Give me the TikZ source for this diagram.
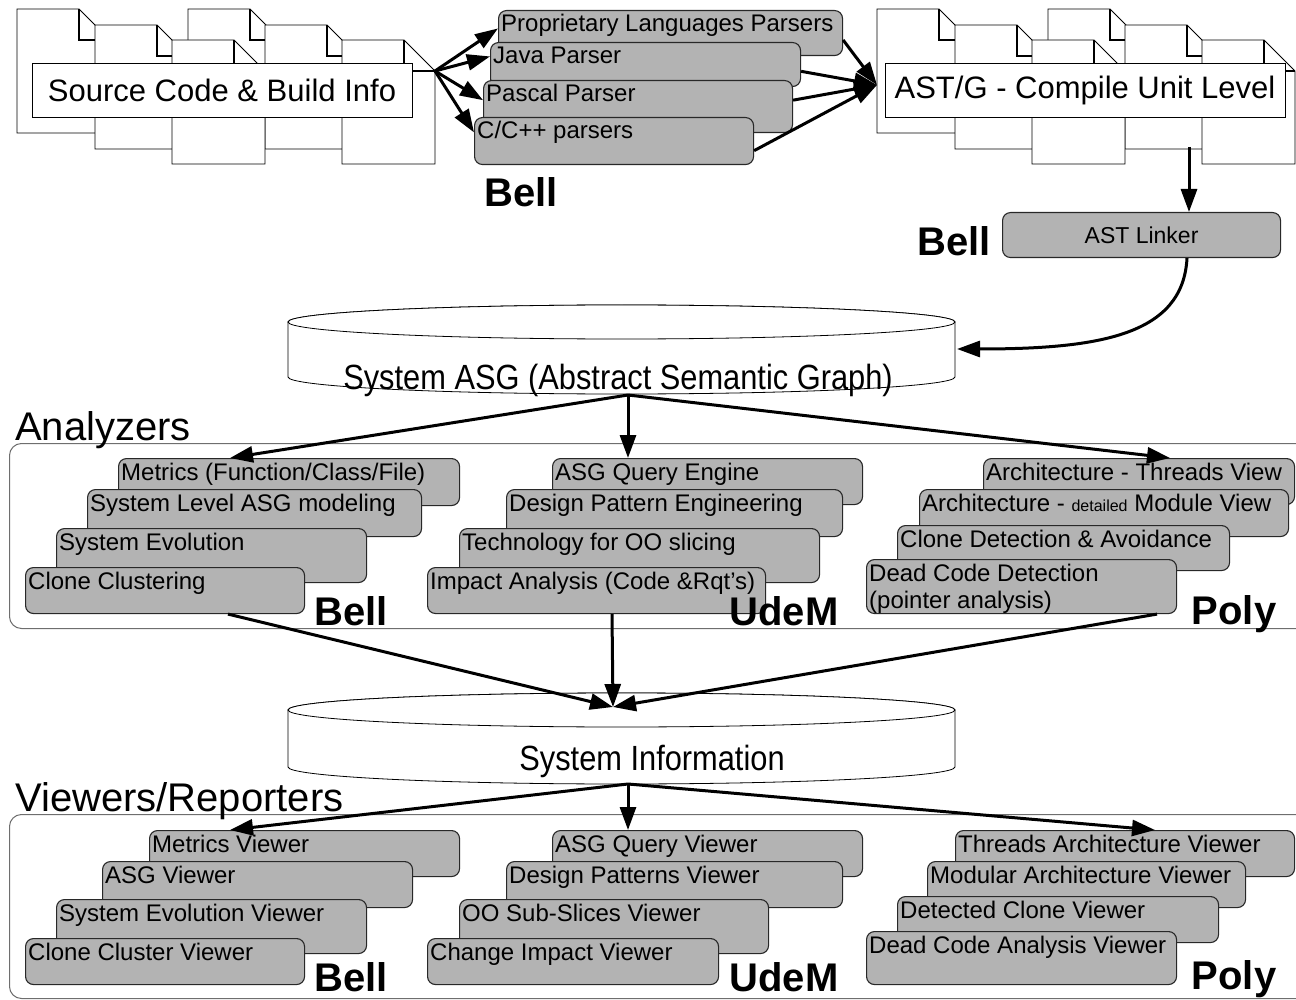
\documentclass[tikz,border=0pt]{standalone}
\usepackage{fontspec}
\setmainfont{Liberation Sans}
\usetikzlibrary{arrows.meta,calc}
\definecolor{boxgray}{RGB}{179,179,179}
\definecolor{boxline}{RGB}{40,40,40}
\definecolor{contline}{RGB}{110,110,110}
\newcommand{\gb}[6]{%
  \node[gbox,minimum width={#4-#2},minimum height={#5-#3}] (#1) at (#2,#3) {};%
  \node[btext] (#1-t) at ($(#1.north west)+(3,22)$) {#6};}
\newcommand{\docpage}[2]{%
  \filldraw[page] (#1,#2) -- ++(62,0) -- ++(31,31) -- ++(0,93) -- ++(-93,0) -- cycle;%
  \draw[fold] (#1+62,#2) -- ++(0,31) -- ++(31,0);}
\begin{document}
\begin{tikzpicture}[x=1pt,y=-1pt,
  page/.style={fill=white,draw=black,line width=0.8pt},
  fold/.style={draw=black,line width=1.2pt},
  lbox/.style={draw=black,fill=white,line width=0.8pt,inner sep=0pt,font=\fontsize{31}{36}\selectfont},
  gbox/.style={draw=boxline,fill=boxgray,rounded corners=8pt,line width=1.1pt,inner sep=0pt,anchor=north west},
  btext/.style={anchor=base west,inner sep=0pt,font=\fontsize{24}{28}\selectfont},
  org/.style={anchor=base,inner sep=0pt,font=\fontsize{40}{44}\selectfont\bfseries},
  hdr/.style={anchor=base west,inner sep=0pt,font=\fontsize{40}{44}\selectfont},
  cont/.style={draw=contline,rounded corners=12pt,line width=1pt,anchor=north west,inner sep=0pt},
  arr/.style={line width=3pt,-{Triangle[length=23pt,width=16pt]}},
  cyl/.style={fill=white,draw=black,line width=0.8pt},
  cyltext/.style={anchor=base,inner sep=0pt}
]
\useasboundingbox (0,0) rectangle (1296,1000);

% ---------- document stacks ----------
\docpage{188}{9}\docpage{265}{25}\docpage{342}{40}
\docpage{17}{9}\docpage{95}{25}\docpage{172}{40}
\node[lbox,minimum width=380,minimum height=54] (src) at (222,90) {Source Code \& Build Info};

\docpage{1048}{9}\docpage{1125}{25}\docpage{1202}{40}
\docpage{877}{9}\docpage{955}{25}\docpage{1032}{40}
\node[lbox,minimum width=400,minimum height=54] (ast) at (1085,90) {AST/G - Compile Unit Level};

\coordinate (srcpt) at (435,71);
\coordinate (astin) at (877,85);
\coordinate (astout) at (1189,147);

% ---------- parsers ----------
\gb{prop}{498}{10}{842}{55}{Proprietary Languages Parsers}
\gb{java}{490}{42}{800}{86}{Java Parser}
\gb{pascal}{483}{80}{792}{132}{Pascal Parser}
\gb{cpp}{474}{117}{753}{164}{C/C++ parsers}
\node[org] (bell1) at (521,207) {Bell};

% ---------- linker ----------
\node[gbox,minimum width=278,minimum height=45] (linker) at (1002,212) {};
\node[inner sep=0pt,font=\fontsize{23}{27}\selectfont] (linker-t) at (linker.center) {AST Linker};
\node[org] (bell2) at (954,256) {Bell};

% ---------- ASG cylinder ----------
\filldraw[cyl] (288,322) -- (288,377) arc[start angle=180,end angle=0,x radius=333.5,y radius=17]
  -- (955,322) arc[start angle=0,end angle=-180,x radius=333.5,y radius=17] -- cycle;
\draw[cyl] (621.5,322) ellipse[x radius=333.5,y radius=17];
\node[cyltext] (asg) at (618,389) {\scalebox{0.88}[1]{\fontsize{35}{38}\selectfont System ASG (Abstract Semantic Graph)}};
\coordinate (asgin) at (957,349);
\coordinate (asgout) at (628,395);

% ---------- containers ----------
\node[cont,minimum width=1320,minimum height=185] (analyzers) at (9,443) {};
\node[cont,minimum width=1320,minimum height=184] (viewers) at (9,814) {};
\node[hdr] (hanal) at (15,440) {Analyzers};
\node[hdr] (hview) at (15,811) {Viewers/Reporters};

% ---------- analyzers ----------
\gb{metrics}{118}{458}{459}{505}{Metrics (Function/Class/File)}
\gb{sysasg}{87}{489}{421}{536}{System Level ASG modeling}
\gb{sysevo}{56}{528}{366}{582}{System Evolution}
\gb{clonec}{25}{567}{304}{613}{Clone Clustering}
\gb{asgq}{552}{458}{862}{504}{ASG Query Engine}
\gb{dpe}{506}{489}{842}{536}{Design Pattern Engineering}
\gb{tech}{459}{528}{819}{582}{Technology for OO slicing}
\gb{impact}{427}{567}{765}{613}{Impact Analysis (Code \&Rqt’s)}
\gb{archt}{983}{458}{1294}{504}{Architecture - Threads View}
\gb{archm}{919}{489}{1288}{536}{Architecture - {\fontsize{16}{18}\selectfont detailed} Module View}
\gb{cloned}{897}{525}{1229}{570}{Clone Detection \& Avoidance}
\gb{dead}{866}{559}{1176}{613}{Dead Code Detection}
\node[btext] (dead-t2) at ($(dead.north west)+(3,49)$) {(pointer analysis)};
\node[org] (bell3) at (351,625) {Bell};
\node[org] (udem1) at (784,625) {UdeM};
\node[org] (poly1) at (1234,624) {Poly};

% ---------- System Information cylinder ----------
\filldraw[cyl] (288,710) -- (288,767) arc[start angle=180,end angle=0,x radius=333.5,y radius=17]
  -- (955,710) arc[start angle=0,end angle=-180,x radius=333.5,y radius=17] -- cycle;
\draw[cyl] (621.5,710) ellipse[x radius=333.5,y radius=17];
\node[cyltext] (sysinfo) at (652,770) {\scalebox{0.88}[1]{\fontsize{35}{38}\selectfont System Information}};
\coordinate (siin) at (613,707);
\coordinate (siout) at (628,784);

% ---------- viewers ----------
\gb{mview}{149}{830}{459}{876}{Metrics Viewer}
\gb{aview}{102}{861}{412}{907}{ASG Viewer}
\gb{seview}{56}{899}{366}{953}{System Evolution Viewer}
\gb{ccview}{25}{938}{304}{984}{Clone Cluster Viewer}
\gb{aqview}{552}{830}{862}{876}{ASG Query Viewer}
\gb{dpview}{506}{861}{842}{907}{Design Patterns Viewer}
\gb{ooview}{459}{899}{768}{953}{OO Sub-Slices Viewer}
\gb{ciview}{427}{938}{718}{984}{Change Impact Viewer}
\gb{taview}{955}{830}{1294}{876}{Threads Architecture Viewer}
\gb{maview}{927}{861}{1245}{907}{Modular Architecture Viewer}
\gb{dcview}{897}{896}{1218}{942}{Detected Clone Viewer}
\gb{daview}{866}{931}{1176}{984}{Dead Code Analysis Viewer}
\node[org] (bell4) at (351,991) {Bell};
\node[org] (udem2) at (784,991) {UdeM};
\node[org] (poly2) at (1234,989) {Poly};

% ---------- arrows ----------
\draw[arr] (srcpt) -- ($(prop.north west)!0.4!(prop.south west)$);
\draw[arr] (srcpt) -- ($(java.north west)!0.32!(java.south west)$);
\draw[arr] (srcpt) -- ($(pascal.north west)!0.38!(pascal.south west)$);
\draw[arr] (srcpt) -- ($(cpp.north west)!0.32!(cpp.south west)$);
\draw[arr] ($(prop.north east)!0.65!(prop.south east)$) -- (astin);
\draw[arr] ($(java.north east)!0.65!(java.south east)$) -- (astin);
\draw[arr] ($(pascal.north east)!0.38!(pascal.south east)$) -- (astin);
\draw[arr] ($(cpp.north east)!0.7!(cpp.south east)$) -- (astin);
\draw[arr] (astout) -- ($(linker.north west)+(187,0)$);
\draw[arr] ($(linker.south west)+(185,0)$) .. controls (1183,335) and (1100,349) .. (asgin);
\draw[arr] (asgout) -- ($(metrics.north west)+(112,0)$);
\draw[arr] (asgout) -- ($(asgq.north west)+(76,0)$);
\draw[arr] (asgout) -- ($(archt.north west)+(187,0)$);
\draw[arr] ($(clonec.south west)+(203,0)$) -- (siin);
\draw[arr] ($(impact.south west)+(185,0)$) -- (siin);
\draw[arr] ($(dead.south west)+(291,0)$) -- (siin);
\draw[arr] (siout) -- ($(mview.north west)+(81,0)$);
\draw[arr] (siout) -- ($(aqview.north west)+(76,0)$);
\draw[arr] (siout) -- ($(taview.north west)+(200,0)$);
\end{tikzpicture}
\end{document}
